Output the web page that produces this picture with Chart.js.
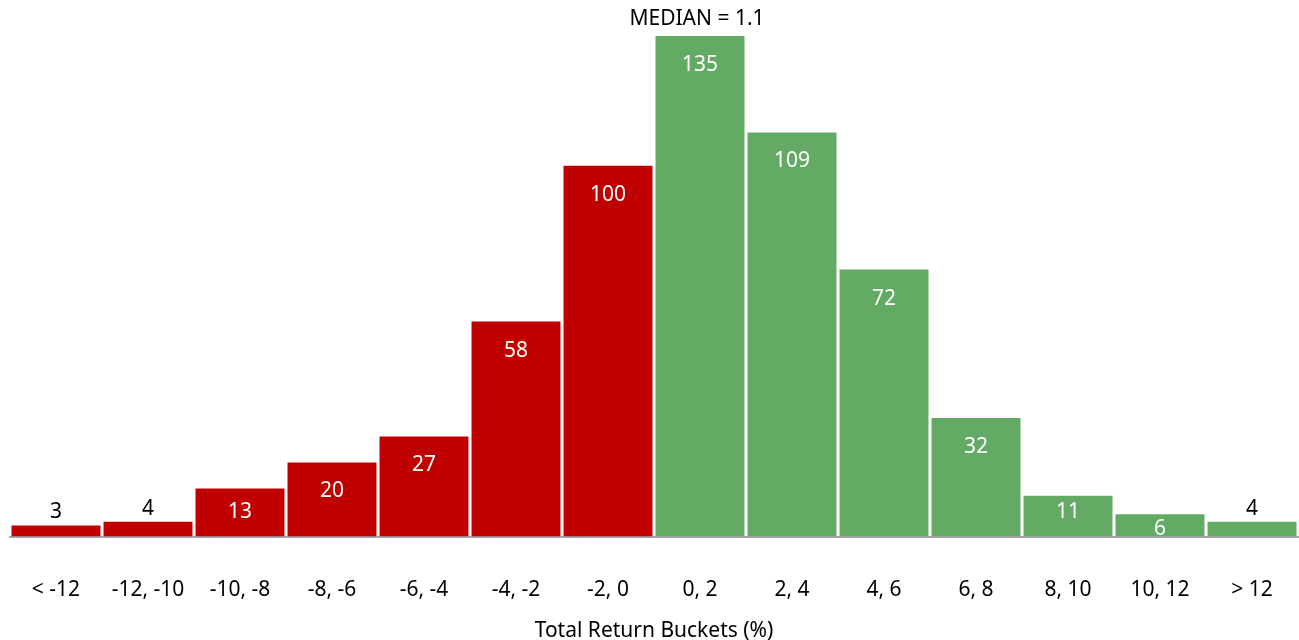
<!DOCTYPE html>
<html>
<head>
<meta charset="utf-8">
<script src="https://cdn.jsdelivr.net/npm/chart.js@4/dist/chart.umd.min.js"></script>
<style>
  body { margin: 0; background: #fff; }
  #histo { display: block; }
</style>
</head>
<body>
<canvas id="histo" width="1299" height="640"></canvas>
<script>
// Return buckets and how many fall in each
const buckets = ["< -12", "-12, -10", "-10, -8", "-8, -6", "-6, -4", "-4, -2", "-2, 0",
                 "0, 2", "2, 4", "4, 6", "6, 8", "8, 10", "10, 12", "> 12"];
const counts = [3, 4, 13, 20, 27, 58, 100, 135, 109, 72, 32, 11, 6, 4];
const medianText = "MEDIAN = 1.1";
const medianBucket = "0, 2";

const RED = "#C00000";
const GREEN = "#63AB65";
const FONT = "'Noto Sans', sans-serif";
const FSIZE = 21;

// negative buckets red, positive green
const barColors = buckets.map((b, i) => i < buckets.indexOf(medianBucket) ? RED : GREEN);

// value labels: white inside the bar when it is tall enough, black above otherwise
const valueLabels = {
  id: "valueLabels",
  afterDatasetsDraw(chart) {
    const ctx = chart.ctx;
    const meta = chart.getDatasetMeta(0);
    ctx.save();
    ctx.font = FSIZE + "px " + FONT;
    ctx.textAlign = "center";
    ctx.textBaseline = "middle";
    meta.data.forEach((bar, i) => {
      const h = bar.base - bar.y;
      if (h < 20) {
        ctx.fillStyle = "#000";
        ctx.fillText(counts[i], bar.x, bar.y - 13);
      } else {
        // sits near the top, slides down on short bars
        const off = Math.min(28, Math.max(14, h - 26));
        ctx.fillStyle = "#fff";
        ctx.fillText(counts[i], bar.x, bar.y + off + 1);
      }
    });
    // median note over its bucket
    const mi = buckets.indexOf(medianBucket);
    ctx.fillStyle = "#000";
    ctx.fillText(medianText, meta.data[mi].x - 3, 19);
    ctx.restore();
  }
};

new Chart(document.getElementById("histo"), {
  type: "bar",
  data: {
    labels: buckets,
    datasets: [{
      data: counts,
      backgroundColor: barColors,
      barPercentage: 0.967,
      categoryPercentage: 1
    }]
  },
  options: {
    responsive: false,
    animation: false,
    layout: { padding: { top: 36, left: 10, right: 1, bottom: 0 } },
    plugins: {
      legend: { display: false },
      tooltip: { enabled: false }
    },
    scales: {
      x: {
        grid: { display: false },
        border: { color: "#A6A6A6", width: 2 },
        ticks: { color: "#000", font: { family: FONT, size: FSIZE }, padding: 33, maxRotation: 0 },
        title: {
          display: true,
          text: "Total Return Buckets (%)",
          color: "#000",
          font: { family: FONT, size: FSIZE },
          padding: { top: -17, bottom: -4 }
        },
        // labels fit inside their buckets, no side padding needed
        afterFit(scale) {
          scale.paddingLeft = 0;
          scale.paddingRight = 0;
        }
      },
      y: {
        display: false,
        min: 0,
        max: 135
      }
    }
  },
  plugins: [valueLabels]
});
</script>
</body>
</html>
